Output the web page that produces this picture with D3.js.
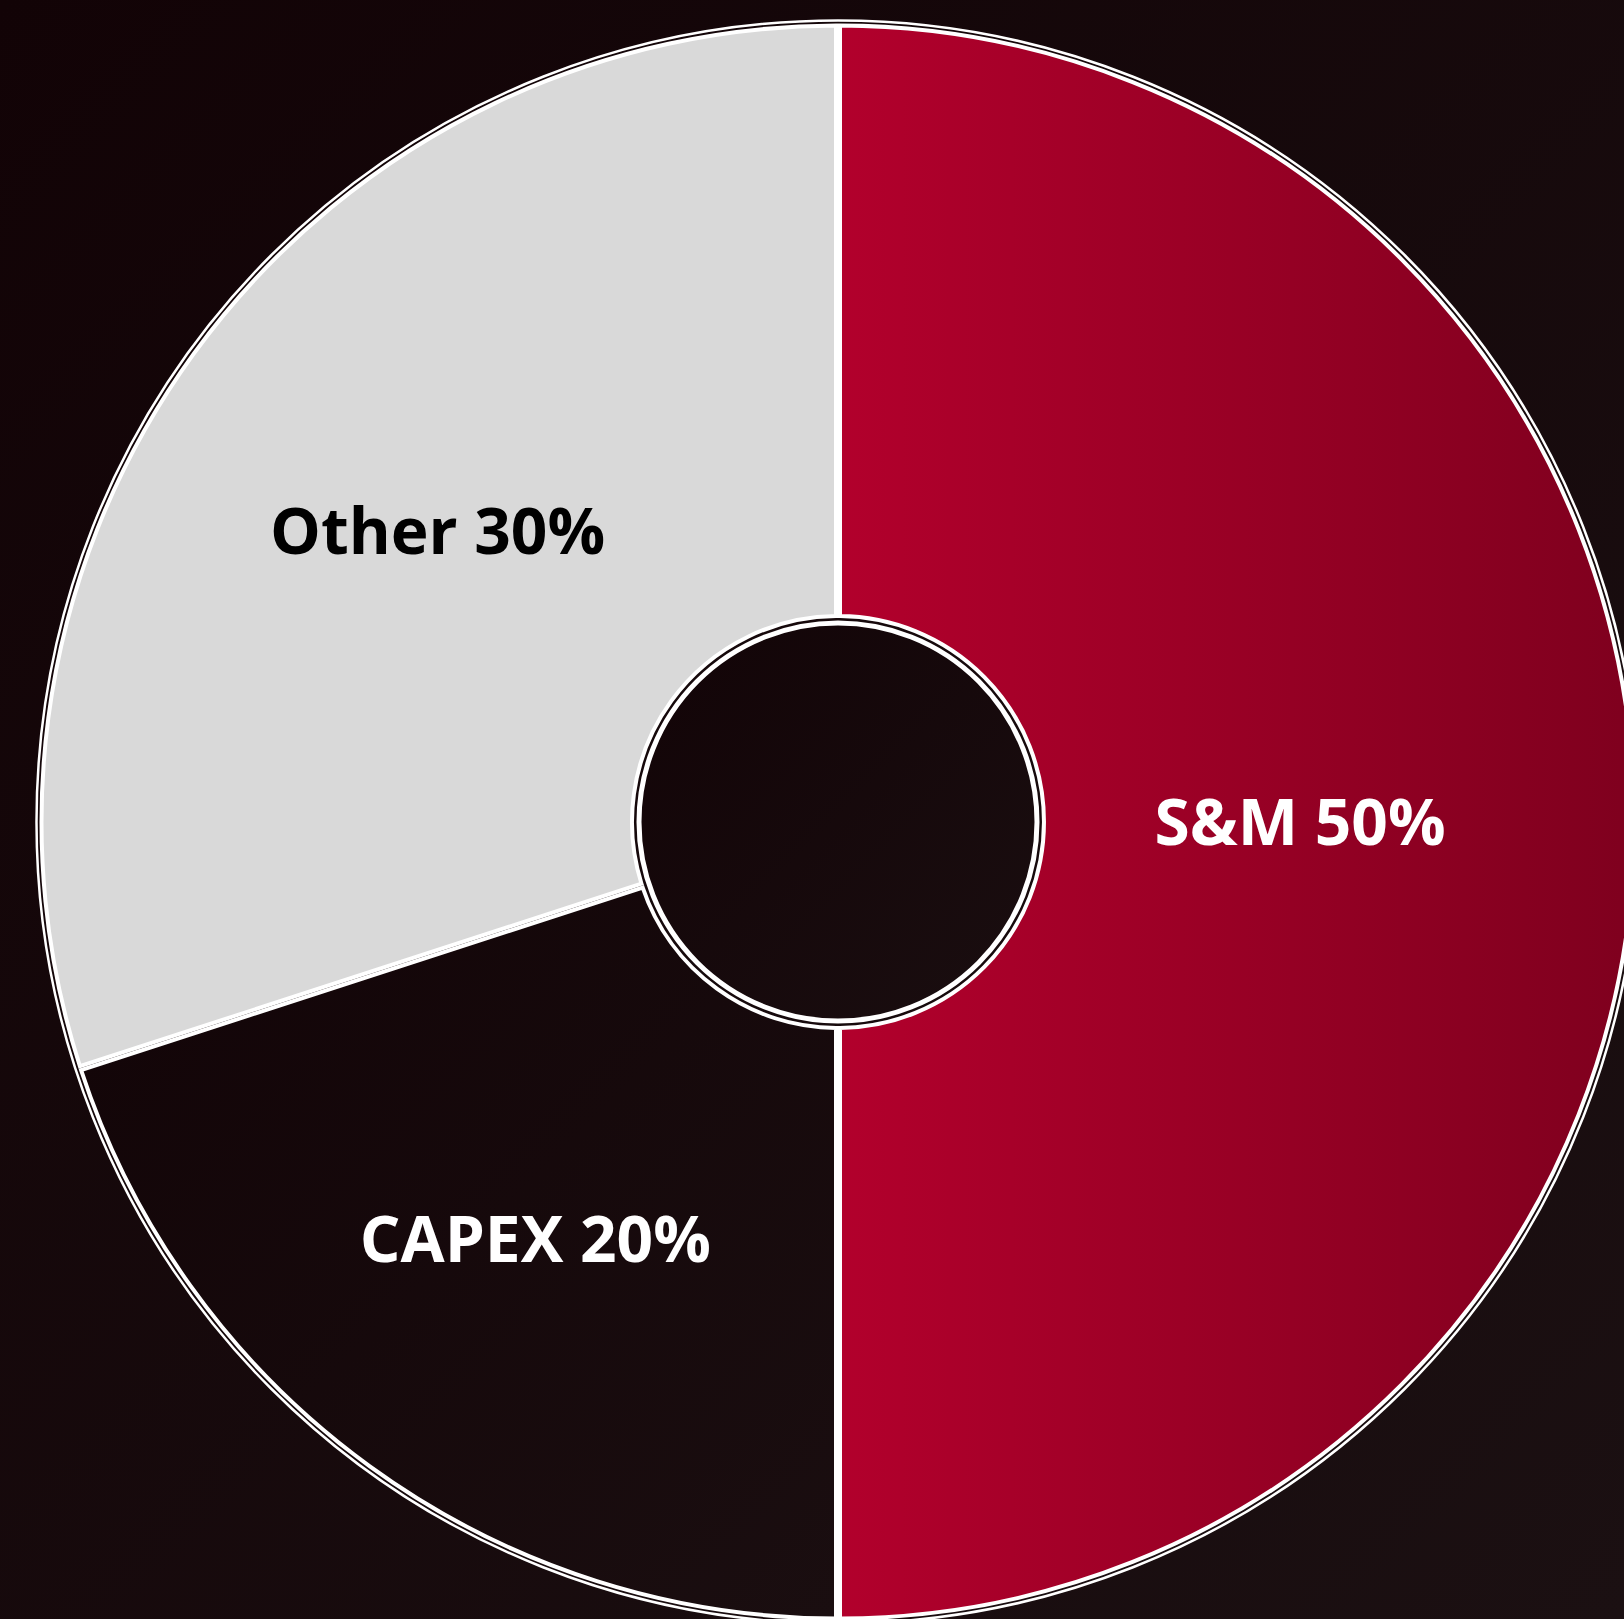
<!DOCTYPE html>
<html>
<head>
<meta charset="utf-8">
<script src="https://cdn.jsdelivr.net/npm/d3@7"></script>
<style>
  html, body { margin: 0; padding: 0; background: #140609; }
  svg { display: block; }
</style>
</head>
<body>
<div id="chart"></div>
<script>
const categories = ['S&M', 'CAPEX', 'Other'];
const shares = [50, 20, 30];
const labels = ['S&M 50%', 'CAPEX 20%', 'Other 30%'];

const width = 1624;
const height = 1619;
const cx = 838, cy = 822;
const outerR = 796.5;
const innerR = 206;
// label distance from centre, per slice (layout only)
const labelRadius = {'S&M': 462, 'CAPEX': 515, 'Other': 495};

const svg = d3.select('#chart')
    .append('svg')
    .attr('width', width)
    .attr('height', height);

const defs = svg.append('defs');

const bgGrad = defs.append('linearGradient')
    .attr('id', 'bgGrad')
    .attr('x1', '0%').attr('y1', '0%')
    .attr('x2', '100%').attr('y2', '100%');
bgGrad.append('stop').attr('offset', '0%').attr('stop-color', '#120306');
bgGrad.append('stop').attr('offset', '100%').attr('stop-color', '#1b1012');

const redGrad = defs.append('linearGradient')
    .attr('id', 'redGrad')
    .attr('x1', '0%').attr('y1', '0%')
    .attr('x2', '100%').attr('y2', '0%');
redGrad.append('stop').attr('offset', '0%').attr('stop-color', '#b2002c');
redGrad.append('stop').attr('offset', '100%').attr('stop-color', '#7f001e');

const darkGrad = defs.append('linearGradient')
    .attr('id', 'darkGrad')
    .attr('x1', '0%').attr('y1', '0%')
    .attr('x2', '100%').attr('y2', '100%');
darkGrad.append('stop').attr('offset', '0%').attr('stop-color', '#120407');
darkGrad.append('stop').attr('offset', '100%').attr('stop-color', '#1a0e10');

// background
svg.append('rect')
    .attr('width', width)
    .attr('height', height)
    .attr('fill', 'url(#bgGrad)');

const colour = d3.scaleOrdinal()
    .domain(categories)
    .range(['url(#redGrad)', 'url(#darkGrad)', '#d9d9d9']);
const textColour = d3.scaleOrdinal()
    .domain(categories)
    .range(['#ffffff', '#ffffff', '#000000']);

const pie = d3.pie().sort(null).value(d => d.value);
const data = pie(categories.map((c, i) => ({name: c, value: shares[i], label: labels[i]})));

const arc = d3.arc()
    .innerRadius(innerR)
    .outerRadius(outerR)
    .padAngle(4 / outerR)
    .padRadius(outerR);

const g = svg.append('g')
    .attr('transform', `translate(${cx},${cy})`);

// outer ring
g.append('circle')
    .attr('r', outerR + 5)
    .attr('fill', 'none')
    .attr('stroke', '#ffffff')
    .attr('stroke-width', 2.5);

g.selectAll('path.slice')
    .data(data)
    .enter()
    .append('path')
    .attr('class', 'slice')
    .attr('d', arc)
    .attr('fill', d => colour(d.data.name))
    .attr('stroke', '#ffffff')
    .attr('stroke-width', 4);

// inner hole
g.append('circle')
    .attr('r', 199)
    .attr('fill', 'url(#darkGrad)')
    .attr('stroke', '#ffffff')
    .attr('stroke-width', 5);

g.selectAll('text.label')
    .data(data)
    .enter()
    .append('text')
    .attr('class', 'label')
    .attr('transform', d => {
        const r = labelRadius[d.data.name];
        return `translate(${d3.arc().innerRadius(r).outerRadius(r).centroid(d)})`;
    })
    .attr('text-anchor', 'middle')
    .attr('dy', '0.36em')
    .attr('fill', d => textColour(d.data.name))
    .style('font-family', '"Open Sans", sans-serif')
    .style('font-weight', 700)
    .style('font-size', '64px')
    .text(d => d.data.label);
</script>
</body>
</html>
